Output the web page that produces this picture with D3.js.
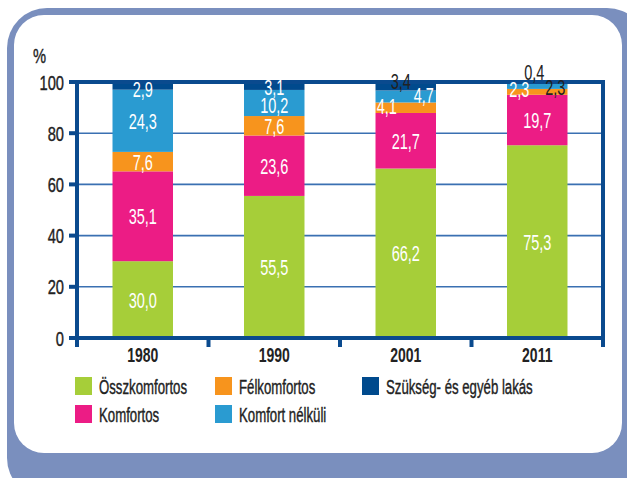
<!DOCTYPE html>
<html>
<head>
<meta charset="utf-8">
<script src="https://cdn.jsdelivr.net/npm/d3@7"></script>
<style>
  body { margin: 0; background: #fff; }
  svg text { font-family: "Liberation Sans", Arial, sans-serif; }
</style>
</head>
<body>
<svg id="chart" width="627" height="478"></svg>
<script>
const years = ["1980", "1990", "2001", "2011"];
const seriesNames = ["Összkomfortos", "Komfortos", "Félkomfortos", "Komfort nélküli", "Szükség- és egyéb lakás"];
const osszkomfortos = [30.0, 55.5, 66.2, 75.3];
const komfortos = [35.1, 23.6, 21.7, 19.7];
const felkomfortos = [7.6, 7.6, 4.1, 2.3];
const komfortNelkuli = [24.3, 10.2, 4.7, 2.3];
const szukseg = [2.9, 3.1, 3.4, 0.4];
const yTicks = [0, 20, 40, 60, 80, 100];

const colors = ["#a6ce39", "#ec1c85", "#f7941d", "#2a9bd1", "#004a8d"];
const axisColor = "#0a4a8e";

const svg = d3.select("#chart");
// squeeze text horizontally for a condensed look
const pos = (px, py, sx) => `translate(${px},${py}) scale(${sx},1)`;

// frame
svg.append("rect").attr("x", 7).attr("y", 8).attr("width", 640).attr("height", 490)
    .attr("rx", 40).attr("fill", "#7a8fbe");
svg.append("rect").attr("x", 14).attr("y", 15).attr("width", 608).attr("height", 438)
    .attr("rx", 30).attr("fill", "#fff");

const margin = { top: 82, left: 77, right: 603, bottom: 338 };

const x = d3.scaleBand().domain(years).range([margin.left, margin.right]).paddingInner(0.54).paddingOuter(0.27);
const y = d3.scaleLinear().domain([0, 100]).range([margin.bottom, margin.top]);

const rows = years.map((yr, i) => ({
    year: yr,
    [seriesNames[0]]: osszkomfortos[i],
    [seriesNames[1]]: komfortos[i],
    [seriesNames[2]]: felkomfortos[i],
    [seriesNames[3]]: komfortNelkuli[i],
    [seriesNames[4]]: szukseg[i]
}));
const stacked = d3.stack().keys(seriesNames)(rows);

// gridlines
svg.append("g").selectAll("line")
    .data(yTicks.filter(t => t > 0 && t < 100))
    .enter().append("line")
    .attr("x1", margin.left - 8).attr("x2", margin.right)
    .attr("y1", d => y(d)).attr("y2", d => y(d))
    .attr("stroke", "#3a70b2").attr("stroke-width", 1.6);

// bars
const groups = svg.append("g").selectAll("g")
    .data(stacked).enter().append("g")
    .attr("fill", (d, i) => colors[i]);
groups.selectAll("rect")
    .data(d => d.map(v => ({ v, key: d.key })))
    .enter().append("rect")
    .attr("x", d => x(d.v.data.year))
    .attr("width", x.bandwidth())
    .attr("y", d => y(d.v[1]))
    .attr("height", d => y(d.v[0]) - y(d.v[1]));

// axes lines
const axis = svg.append("g").attr("stroke", axisColor).attr("stroke-width", 4);
axis.append("line").attr("x1", margin.left - 8).attr("x2", margin.right + 2)
    .attr("y1", y(100)).attr("y2", y(100));
axis.append("line").attr("x1", margin.left - 8).attr("x2", margin.right + 2)
    .attr("y1", y(0)).attr("y2", y(0));
axis.append("line").attr("x1", margin.left).attr("x2", margin.left)
    .attr("y1", y(100) - 2).attr("y2", y(0) + 9);
axis.append("line").attr("x1", margin.right).attr("x2", margin.right)
    .attr("y1", y(100) - 2).attr("y2", y(0) + 9);
axis.selectAll(".ytick").data(yTicks.filter(t => t > 0 && t < 100)).enter().append("line")
    .attr("x1", margin.left - 8).attr("x2", margin.left)
    .attr("y1", d => y(d)).attr("y2", d => y(d));
const step = x.step();
axis.selectAll(".xtick").data(years.slice(1)).enter().append("line")
    .attr("x1", d => x(d) - step * x.paddingInner() / 2).attr("x2", d => x(d) - step * x.paddingInner() / 2)
    .attr("y1", y(0)).attr("y2", y(0) + 9);

// y labels
svg.append("g").selectAll("text").data(yTicks).enter().append("text")
    .attr("transform", d => pos(margin.left - 13, y(d) + 7.5, 0.7))
    .attr("text-anchor", "end").attr("font-size", 21).attr("fill", "#222")
    .attr("stroke", "#222").attr("stroke-width", 0.4)
    .text(d => d);
svg.append("text").attr("transform", pos(33, 63, 0.7)).attr("font-size", 21).attr("fill", "#222")
    .attr("stroke", "#222").attr("stroke-width", 0.4).text("%");

// x labels
svg.append("g").selectAll("text").data(years).enter().append("text")
    .attr("transform", d => pos(x(d) + x.bandwidth() / 2, y(0) + 24, 0.7))
    .attr("text-anchor", "middle").attr("font-size", 20).attr("font-weight", "bold").attr("fill", "#222")
    .text(d => d);

// value labels
const fmt = v => d3.format(".1f")(v).replace(".", ",");
const tweaks = {
    "1980|4": { dx: 0, dy: 3 },
    "1990|4": { dx: 0, dy: 1.5 },
    "1990|3": { dx: 0, dy: 2 },
    "2001|4": { dx: -5, dy: -5.5, color: "#222" },
    "2001|3": { dx: 18, dy: -1.5 },
    "2001|2": { dx: -19, dy: -2 },
    "2011|4": { dx: -3, dy: -10.5, color: "#222" },
    "2011|3": { dx: 18, dy: 1, color: "#222" },
    "2011|2": { dx: -18, dy: -3 }
};
stacked.forEach((s, si) => {
    s.forEach(v => {
        const t = tweaks[v.data.year + "|" + si];
        if (!t && v[1] - v[0] < 7) return;
        const tw = t || { dx: 0, dy: 0 };
        const cx = x(v.data.year) + x.bandwidth() / 2 + tw.dx;
        const cy = (y(v[0]) + y(v[1])) / 2 + tw.dy;
        svg.append("text")
            .attr("transform", pos(cx, cy + 8, 0.66))
            .attr("text-anchor", "middle").attr("font-size", 22)
            .attr("fill", tw.color || "#fff")
            .text(fmt(v.data[s.key]));
    });
});

// legend
const legendPos = [[75, 377], [75, 405], [215, 377], [215, 405], [362, 377]];
const legend = svg.append("g").selectAll("g").data(seriesNames).enter().append("g")
    .attr("transform", (d, i) => `translate(${legendPos[i][0]},${legendPos[i][1]})`);
legend.append("rect").attr("width", 17).attr("height", 18).attr("fill", (d, i) => colors[i]);
legend.append("text").attr("transform", pos(24, 17, 0.66)).attr("font-size", 20).attr("fill", "#222")
    .attr("stroke", "#222").attr("stroke-width", 0.4)
    .text(d => d);
</script>
</body>
</html>
